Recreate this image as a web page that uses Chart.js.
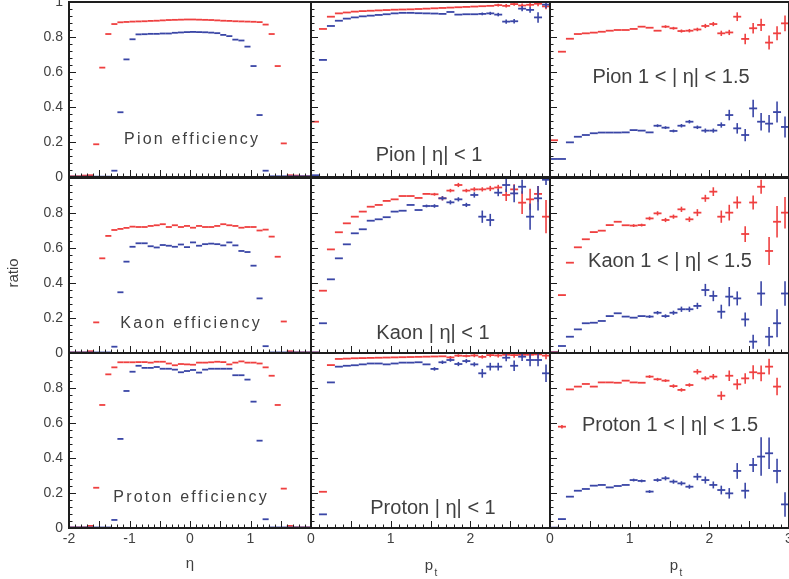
<!DOCTYPE html>
<html><head><meta charset="utf-8">
<script src="https://cdn.jsdelivr.net/npm/chart.js@4.4.1/dist/chart.umd.min.js"></script>
<style>
html,body{margin:0;padding:0;background:#fff;}
#wrap{position:relative;width:789px;height:579px;overflow:hidden;background:#fff;}
#wrap canvas{position:absolute;left:0;top:0;}
</style></head><body><div id="wrap"></div>
<script>
// ---------- bins & ticks ----------
const etaBins = [-1.95,-1.85,-1.75,-1.65,-1.55,-1.45,-1.35,-1.25,-1.15,-1.05,-0.95,-0.85,-0.75,-0.65,-0.55,-0.45,-0.35,-0.25,-0.15,-0.05,0.05,0.15,0.25,0.35,0.45,0.55,0.65,0.75,0.85,0.95,1.05,1.15,1.25,1.35,1.45,1.55,1.65,1.75,1.85,1.95];
const ptBins = [0.05,0.15,0.25,0.35,0.45,0.55,0.65,0.75,0.85,0.95,1.05,1.15,1.25,1.35,1.45,1.55,1.65,1.75,1.85,1.95,2.05,2.15,2.25,2.35,2.45,2.55,2.65,2.75,2.85,2.95];
const etaHalfBin = 0.05;
const ptHalfBin = 0.05;
const etaTickLabels = ['-2','-1','0','1'];
const etaTickValues = [-2,-1,0,1];
const ptTickValuesMid = [0,1,2];
const ptTickValuesFwd = [0,1,2,3];
const yTickValuesTop = [0,0.2,0.4,0.6,0.8,1];
const yTickLabelsTop = ['0','0.2','0.4','0.6','0.8','1'];
const yTickValues = [0,0.2,0.4,0.6,0.8];
const yTickLabels = ['0','0.2','0.4','0.6','0.8'];

// ---------- efficiency vs eta ----------
const pionEtaRed = [0.004,0.004,0.008,0.010,0.187,0.625,0.817,0.874,0.884,0.886,0.888,0.889,0.890,0.892,0.893,0.895,0.897,0.898,0.899,0.900,0.900,0.899,0.898,0.897,0.895,0.893,0.892,0.890,0.889,0.888,0.887,0.885,0.871,0.817,0.634,0.192,0.010,0.008,0.004,0.004];
const pionEtaBlue = [0.002,0.002,0.002,0.002,0.002,0.002,0.002,0.036,0.370,0.672,0.787,0.815,0.816,0.818,0.818,0.820,0.820,0.824,0.826,0.828,0.829,0.828,0.827,0.825,0.822,0.812,0.805,0.785,0.780,0.745,0.634,0.354,0.036,0.004,0.004,0.004,0.004,0.004,0.004,0.004];
const pionEtaErr = [0.002,0.002,0.002,0.003,0.006,0.006,0.005,0.004,0.004,0.004,0.003,0.003,0.003,0.003,0.003,0.003,0.003,0.003,0.003,0.003,0.003,0.003,0.003,0.003,0.003,0.003,0.003,0.003,0.003,0.003,0.004,0.004,0.004,0.005,0.006,0.006,0.003,0.002,0.002,0.002];

const kaonEtaRed = [0.003,0.003,0.003,0.010,0.175,0.541,0.669,0.703,0.709,0.715,0.722,0.720,0.720,0.726,0.730,0.736,0.720,0.730,0.720,0.726,0.716,0.726,0.720,0.720,0.726,0.736,0.730,0.726,0.716,0.720,0.720,0.700,0.705,0.665,0.550,0.180,0.010,0.003,0.003,0.003];
const kaonEtaBlue = [0.003,0.003,0.003,0.003,0.003,0.003,0.003,0.036,0.347,0.522,0.607,0.627,0.627,0.610,0.603,0.617,0.613,0.607,0.620,0.605,0.632,0.613,0.622,0.625,0.622,0.615,0.632,0.615,0.583,0.577,0.499,0.312,0.039,0.003,0.003,0.003,0.003,0.003,0.003,0.003];
const kaonEtaErr = [0.002,0.002,0.002,0.003,0.006,0.007,0.007,0.007,0.007,0.007,0.007,0.006,0.006,0.006,0.006,0.006,0.006,0.006,0.006,0.006,0.006,0.006,0.006,0.006,0.006,0.006,0.006,0.006,0.006,0.006,0.007,0.007,0.007,0.007,0.007,0.006,0.003,0.002,0.002,0.002];

const protonEtaRed = [0.003,0.003,0.003,0.012,0.230,0.703,0.878,0.918,0.947,0.947,0.947,0.948,0.948,0.945,0.950,0.950,0.940,0.930,0.937,0.935,0.933,0.945,0.945,0.947,0.950,0.948,0.935,0.945,0.952,0.945,0.945,0.940,0.918,0.870,0.703,0.225,0.012,0.003,0.003,0.003];
const protonEtaBlue = [0.003,0.003,0.003,0.003,0.003,0.003,0.003,0.046,0.509,0.783,0.893,0.927,0.915,0.915,0.920,0.910,0.910,0.905,0.890,0.897,0.903,0.888,0.905,0.910,0.910,0.910,0.910,0.873,0.873,0.848,0.722,0.499,0.050,0.003,0.003,0.003,0.003,0.003,0.003,0.003];
const protonEtaErr = [0.002,0.002,0.002,0.003,0.006,0.007,0.007,0.007,0.007,0.007,0.007,0.006,0.006,0.006,0.006,0.006,0.006,0.006,0.006,0.006,0.006,0.006,0.006,0.006,0.006,0.006,0.006,0.006,0.006,0.006,0.007,0.007,0.007,0.007,0.007,0.006,0.003,0.002,0.002,0.002];

// ---------- efficiency vs pt, |eta| < 1 ----------
const pionMidRed = [0.316,0.846,0.916,0.935,0.940,0.945,0.948,0.950,0.952,0.954,0.956,0.957,0.958,0.960,0.962,0.964,0.966,0.968,0.970,0.972,0.974,0.976,0.978,0.982,0.978,0.988,0.980,0.984,0.990,0.975];
const pionMidRedErr = [0.004,0.003,0.002,0.002,0.002,0.002,0.002,0.002,0.002,0.002,0.002,0.002,0.003,0.003,0.003,0.003,0.004,0.004,0.005,0.005,0.006,0.006,0.007,0.008,0.010,0.010,0.012,0.012,0.014,0.016];
const pionMidBlue = [0.010,0.669,0.863,0.893,0.905,0.912,0.918,0.922,0.926,0.930,0.935,0.938,0.938,0.936,0.935,0.934,0.932,0.943,0.928,0.930,0.930,0.932,0.935,0.928,0.888,0.890,0.962,0.955,0.912,0.985];
const pionMidBlueErr = [0.003,0.003,0.002,0.002,0.002,0.002,0.002,0.002,0.002,0.002,0.003,0.003,0.003,0.003,0.004,0.004,0.005,0.006,0.006,0.007,0.007,0.008,0.009,0.010,0.012,0.013,0.015,0.016,0.030,0.020];

const kaonMidRed = [0.003,0.356,0.592,0.690,0.741,0.779,0.808,0.836,0.846,0.869,0.878,0.897,0.897,0.886,0.909,0.907,0.884,0.928,0.960,0.928,0.935,0.935,0.940,0.946,0.903,0.935,0.859,0.878,0.909,0.779];
const kaonMidRedErr = [0.002,0.003,0.003,0.003,0.003,0.003,0.003,0.003,0.003,0.004,0.004,0.005,0.005,0.006,0.007,0.008,0.012,0.010,0.012,0.010,0.012,0.012,0.015,0.015,0.035,0.030,0.065,0.060,0.045,0.095];
const kaonMidBlue = [0.003,0.170,0.421,0.541,0.621,0.684,0.707,0.756,0.764,0.776,0.808,0.813,0.846,0.817,0.840,0.840,0.884,0.861,0.878,0.846,0.903,0.779,0.760,0.916,0.960,0.912,0.950,0.779,0.884,0.990];
const kaonMidBlueErr = [0.002,0.003,0.003,0.003,0.003,0.003,0.003,0.004,0.004,0.004,0.005,0.005,0.006,0.006,0.008,0.010,0.012,0.012,0.012,0.012,0.015,0.035,0.035,0.020,0.040,0.050,0.040,0.075,0.070,0.030];

const protonMidRed = [0.000,0.207,0.931,0.966,0.968,0.970,0.971,0.972,0.973,0.974,0.975,0.976,0.977,0.978,0.979,0.980,0.981,0.975,0.985,0.983,0.986,0.978,0.988,0.986,0.990,0.988,0.990,0.990,0.992,0.985];
const protonMidRedErr = [0.002,0.004,0.003,0.002,0.002,0.002,0.002,0.002,0.002,0.002,0.002,0.002,0.002,0.003,0.003,0.003,0.004,0.008,0.008,0.008,0.010,0.010,0.012,0.012,0.015,0.015,0.015,0.020,0.020,0.020];
const protonMidBlue = [0.000,0.078,0.832,0.922,0.927,0.930,0.935,0.940,0.940,0.935,0.940,0.945,0.945,0.947,0.935,0.909,0.947,0.960,0.937,0.954,0.935,0.884,0.922,0.922,0.973,0.927,0.979,0.960,0.960,0.884];
const protonMidBlueErr = [0.002,0.004,0.004,0.003,0.003,0.003,0.003,0.003,0.003,0.003,0.004,0.004,0.004,0.005,0.006,0.010,0.010,0.010,0.012,0.012,0.012,0.025,0.022,0.022,0.020,0.030,0.025,0.035,0.035,0.050];

// ---------- efficiency vs pt, 1 < |eta| < 1.5 ----------
const pionFwdRed = [0.210,0.716,0.790,0.817,0.821,0.825,0.830,0.836,0.840,0.840,0.846,0.859,0.853,0.836,0.859,0.850,0.834,0.836,0.843,0.863,0.874,0.821,0.826,0.916,0.789,0.850,0.869,0.768,0.821,0.878];
const pionFwdRedErr = [0.003,0.003,0.003,0.003,0.003,0.003,0.003,0.004,0.004,0.004,0.005,0.006,0.006,0.007,0.008,0.008,0.009,0.010,0.010,0.012,0.012,0.015,0.015,0.025,0.030,0.030,0.035,0.040,0.040,0.045];
const pionFwdBlue = [0.103,0.103,0.198,0.230,0.240,0.250,0.254,0.254,0.254,0.255,0.268,0.265,0.255,0.293,0.282,0.263,0.293,0.316,0.284,0.265,0.265,0.297,0.354,0.278,0.240,0.392,0.316,0.305,0.371,0.286];
const pionFwdBlueErr = [0.003,0.003,0.003,0.003,0.003,0.003,0.003,0.004,0.004,0.004,0.005,0.006,0.006,0.008,0.008,0.008,0.010,0.010,0.010,0.012,0.012,0.015,0.030,0.030,0.035,0.050,0.050,0.050,0.060,0.060];

const kaonFwdRed = [0.005,0.331,0.516,0.604,0.650,0.691,0.699,0.731,0.750,0.730,0.728,0.731,0.769,0.798,0.760,0.779,0.821,0.764,0.802,0.884,0.922,0.779,0.802,0.860,0.680,0.860,0.950,0.583,0.750,0.802];
const kaonFwdRedErr = [0.003,0.004,0.004,0.004,0.004,0.005,0.005,0.006,0.007,0.007,0.008,0.008,0.010,0.012,0.012,0.012,0.015,0.015,0.020,0.020,0.025,0.035,0.045,0.035,0.045,0.040,0.040,0.080,0.090,0.090];
const kaonFwdBlue = [0.003,0.040,0.093,0.135,0.170,0.173,0.183,0.211,0.227,0.208,0.202,0.211,0.208,0.230,0.211,0.230,0.250,0.250,0.269,0.360,0.326,0.236,0.322,0.312,0.192,0.065,0.340,0.093,0.170,0.340];
const kaonFwdBlueErr = [0.002,0.003,0.003,0.003,0.004,0.004,0.004,0.005,0.005,0.006,0.006,0.007,0.008,0.010,0.010,0.012,0.015,0.015,0.018,0.035,0.030,0.040,0.055,0.040,0.040,0.040,0.070,0.055,0.080,0.070];

const protonFwdRed = [null,0.579,0.792,0.808,0.823,0.808,0.832,0.832,0.830,0.842,0.832,0.830,0.865,0.850,0.842,0.811,0.789,0.817,0.893,0.855,0.865,0.756,0.870,0.821,0.855,0.890,0.884,0.922,0.808,null];
const protonFwdRedErr = [0.003,0.010,0.004,0.004,0.004,0.004,0.004,0.005,0.005,0.005,0.006,0.006,0.008,0.008,0.008,0.010,0.010,0.010,0.015,0.012,0.015,0.025,0.030,0.030,0.030,0.040,0.045,0.045,0.050,0.050];
const protonFwdBlue = [0.002,0.051,0.179,0.213,0.223,0.242,0.246,0.232,0.240,0.246,0.274,0.269,0.208,0.274,0.284,0.265,0.255,0.236,0.293,0.274,0.246,0.217,0.198,0.326,0.213,0.360,0.408,0.427,0.326,0.135];
const protonFwdBlueErr = [0.002,0.003,0.004,0.004,0.004,0.005,0.005,0.005,0.005,0.006,0.008,0.008,0.008,0.010,0.012,0.012,0.012,0.012,0.020,0.020,0.020,0.025,0.030,0.045,0.045,0.040,0.110,0.090,0.070,0.070];

// ---------- layout / style ----------
const W = 789, H = 579;
const RED = '#ef4040', BLUE = '#3a46a6';
const TEXT = '#404040';
const FONT = '"Liberation Sans", Arial, sans-serif';
const cols = [
  {l:69,  r:311, min:-2, max:2, tickVals:etaTickValues, tickLabels:etaTickLabels, half:etaHalfBin, bins:etaBins},
  {l:311, r:550, min:0,  max:3, tickVals:ptTickValuesMid, tickLabels:ptTickValuesMid.map(String), half:ptHalfBin, bins:ptBins},
  {l:550, r:789, min:0,  max:3, tickVals:ptTickValuesFwd, tickLabels:ptTickValuesFwd.map(String), half:ptHalfBin, bins:ptBins}
];
const rows = [{t:2,b:177},{t:178,b:353},{t:353,b:528}];

const panels = [
  {r:0,c:0,red:pionEtaRed,redErr:pionEtaErr,blue:pionEtaBlue,blueErr:pionEtaErr,title:'Pion efficiency',tx:191,ty:140,kind:'eff'},
  {r:0,c:1,red:pionMidRed,redErr:pionMidRedErr,blue:pionMidBlue,blueErr:pionMidBlueErr,title:'Pion | \u03b7| < 1',tx:429,ty:155,kind:'big'},
  {r:0,c:2,red:pionFwdRed,redErr:pionFwdRedErr,blue:pionFwdBlue,blueErr:pionFwdBlueErr,title:'Pion 1 < | \u03b7| < 1.5',tx:671,ty:77,kind:'big'},
  {r:1,c:0,red:kaonEtaRed,redErr:kaonEtaErr,blue:kaonEtaBlue,blueErr:kaonEtaErr,title:'Kaon efficiency',tx:190,ty:324,kind:'eff'},
  {r:1,c:1,red:kaonMidRed,redErr:kaonMidRedErr,blue:kaonMidBlue,blueErr:kaonMidBlueErr,title:'Kaon | \u03b7| < 1',tx:433,ty:333,kind:'big'},
  {r:1,c:2,red:kaonFwdRed,redErr:kaonFwdRedErr,blue:kaonFwdBlue,blueErr:kaonFwdBlueErr,title:'Kaon 1 < | \u03b7| < 1.5',tx:670,ty:261,kind:'big'},
  {r:2,c:0,red:protonEtaRed,redErr:protonEtaErr,blue:protonEtaBlue,blueErr:protonEtaErr,title:'Proton efficiency',tx:190,ty:498,kind:'eff'},
  {r:2,c:1,red:protonMidRed,redErr:protonMidRedErr,blue:protonMidBlue,blueErr:protonMidBlueErr,title:'Proton | \u03b7| < 1',tx:433,ty:508,kind:'big'},
  {r:2,c:2,red:protonFwdRed,redErr:protonFwdRedErr,blue:protonFwdBlue,blueErr:protonFwdBlueErr,title:'Proton 1 < | \u03b7| < 1.5',tx:670,ty:425,kind:'big'}
];

function spacedText(ctx, s, cx, cy, sp) {
  const chars = Array.from(s);
  const ws = chars.map(ch => ctx.measureText(ch).width);
  const total = ws.reduce((a,b)=>a+b,0) + sp*(chars.length-1);
  let x = cx - total/2;
  ctx.textAlign = 'left';
  chars.forEach((ch,i) => { ctx.fillText(ch, x, cy); x += ws[i] + sp; });
}

const panelPlugin = {
  id: 'panelDeco',
  afterDatasetsDraw(chart, args, opts) {
    const {ctx, chartArea: a, scales: {x, y}} = chart;
    const p = opts.panel, col = cols[p.c];
    // error-bar crosses
    ctx.save();
    ctx.beginPath(); ctx.rect(a.left, a.top, a.right - a.left, a.bottom - a.top); ctx.clip();
    ctx.lineCap = 'butt';
    chart.data.datasets.forEach((ds, di) => {
      const meta = chart.getDatasetMeta(di);
      ctx.strokeStyle = ds.borderColor;
      ds.data.forEach((pt, i) => {
        if (pt.y === null || pt.y === undefined) return;
        const el = meta.data[i];
        const px = el.x, py = el.y;
        const x0 = x.getPixelForValue(pt.x - pt.hx), x1 = x.getPixelForValue(pt.x + pt.hx);
        const y0 = y.getPixelForValue(pt.y - pt.ey), y1 = y.getPixelForValue(pt.y + pt.ey);
        ctx.lineWidth = 1.8;
        ctx.beginPath(); ctx.moveTo(x0, py); ctx.lineTo(x1, py); ctx.stroke();
        if (Math.abs(y0 - y1) > 2.5) {
          ctx.lineWidth = 1.6;
          ctx.beginPath(); ctx.moveTo(px, y0); ctx.lineTo(px, y1); ctx.stroke();
        }
      });
    });
    ctx.restore();

    // frame
    ctx.save();
    ctx.strokeStyle = '#1e1e1e';
    ctx.lineWidth = 2;
    ctx.strokeRect(a.left, a.top, a.right - a.left, a.bottom - a.top);
    // inward ticks: left axis
    ctx.lineWidth = 1;
    for (let k = 0; k <= 25; k++) {
      const v = k * 0.04, py = Math.round(y.getPixelForValue(v)) + 0.5;
      const len = (k % 5 === 0) ? 7 : 3.5;
      ctx.beginPath(); ctx.moveTo(a.left, py); ctx.lineTo(a.left + len, py); ctx.stroke();
    }
    // inward ticks: bottom axis
    const n = Math.round((col.max - col.min) / 0.1);
    for (let k = 0; k <= n; k++) {
      const v = col.min + k * 0.1, px = Math.round(x.getPixelForValue(v)) + 0.5;
      const len = (k % 5 === 0) ? 7 : 3.5;
      ctx.beginPath(); ctx.moveTo(px, a.bottom); ctx.lineTo(px, a.bottom - len); ctx.stroke();
    }
    ctx.restore();

    // tick labels
    ctx.save();
    ctx.fillStyle = TEXT;
    ctx.font = '14px ' + FONT;
    if (p.c === 0) {
      const vals = p.r === 0 ? yTickValuesTop : yTickValues;
      const labs = p.r === 0 ? yTickLabelsTop : yTickLabels;
      ctx.textAlign = 'right'; ctx.textBaseline = 'middle';
      vals.forEach((v, i) => ctx.fillText(labs[i], a.left - 6, y.getPixelForValue(v)));
    }
    if (p.r === 2) {
      ctx.textAlign = 'center'; ctx.textBaseline = 'middle';
      col.tickVals.forEach((v, i) => ctx.fillText(col.tickLabels[i], x.getPixelForValue(v), 539));
      ctx.font = '15px ' + FONT;
      if (p.c === 0) {
        ctx.fillText('\u03b7', 190, 564);
      } else {
        const cx = p.c === 1 ? 429 : 674;
        ctx.fillText('p', cx, 566);
        ctx.font = '10px ' + FONT;
        ctx.fillText('t', cx + 7, 573);
      }
    }
    if (p.r === 1 && p.c === 0) {
      ctx.translate(14, 273);
      ctx.rotate(-Math.PI / 2);
      ctx.font = '15px ' + FONT;
      ctx.textAlign = 'center'; ctx.textBaseline = 'middle';
      ctx.fillText('ratio', 0, 0);
    }
    ctx.restore();

    // panel title
    ctx.save();
    ctx.fillStyle = TEXT;
    ctx.textBaseline = 'middle';
    if (p.kind === 'eff') {
      ctx.font = '16px ' + FONT;
      spacedText(ctx, p.title, p.tx, p.ty, 2.2);
    } else {
      ctx.font = '20px ' + FONT;
      ctx.textAlign = 'center';
      ctx.fillText(p.title, p.tx, p.ty);
    }
    ctx.restore();
  }
};

const wrap = document.getElementById('wrap');
panels.forEach(p => {
  const col = cols[p.c], row = rows[p.r];
  const cv = document.createElement('canvas');
  cv.width = W; cv.height = H;
  cv.style.width = W + 'px'; cv.style.height = H + 'px';
  wrap.appendChild(cv);
  const mk = (vals, errs) => col.bins.map((b, i) => ({x: b, y: vals[i], ey: errs[i], hx: col.half}));
  new Chart(cv, {
    type: 'scatter',
    data: {
      datasets: [
        {label: 'red', data: mk(p.red, p.redErr), borderColor: RED, backgroundColor: RED, pointRadius: 0, showLine: false},
        {label: 'blue', data: mk(p.blue, p.blueErr), borderColor: BLUE, backgroundColor: BLUE, pointRadius: 0, showLine: false}
      ]
    },
    options: {
      responsive: false,
      animation: false,
      devicePixelRatio: 1,
      layout: {padding: {left: col.l, right: W - col.r, top: row.t, bottom: H - row.b}},
      scales: {
        x: {type: 'linear', min: col.min, max: col.max, display: false},
        y: {type: 'linear', min: 0, max: 1, display: false}
      },
      plugins: {legend: {display: false}, tooltip: {enabled: false}, panelDeco: {panel: p}}
    },
    plugins: [panelPlugin]
  });
});
</script>
</body></html>
